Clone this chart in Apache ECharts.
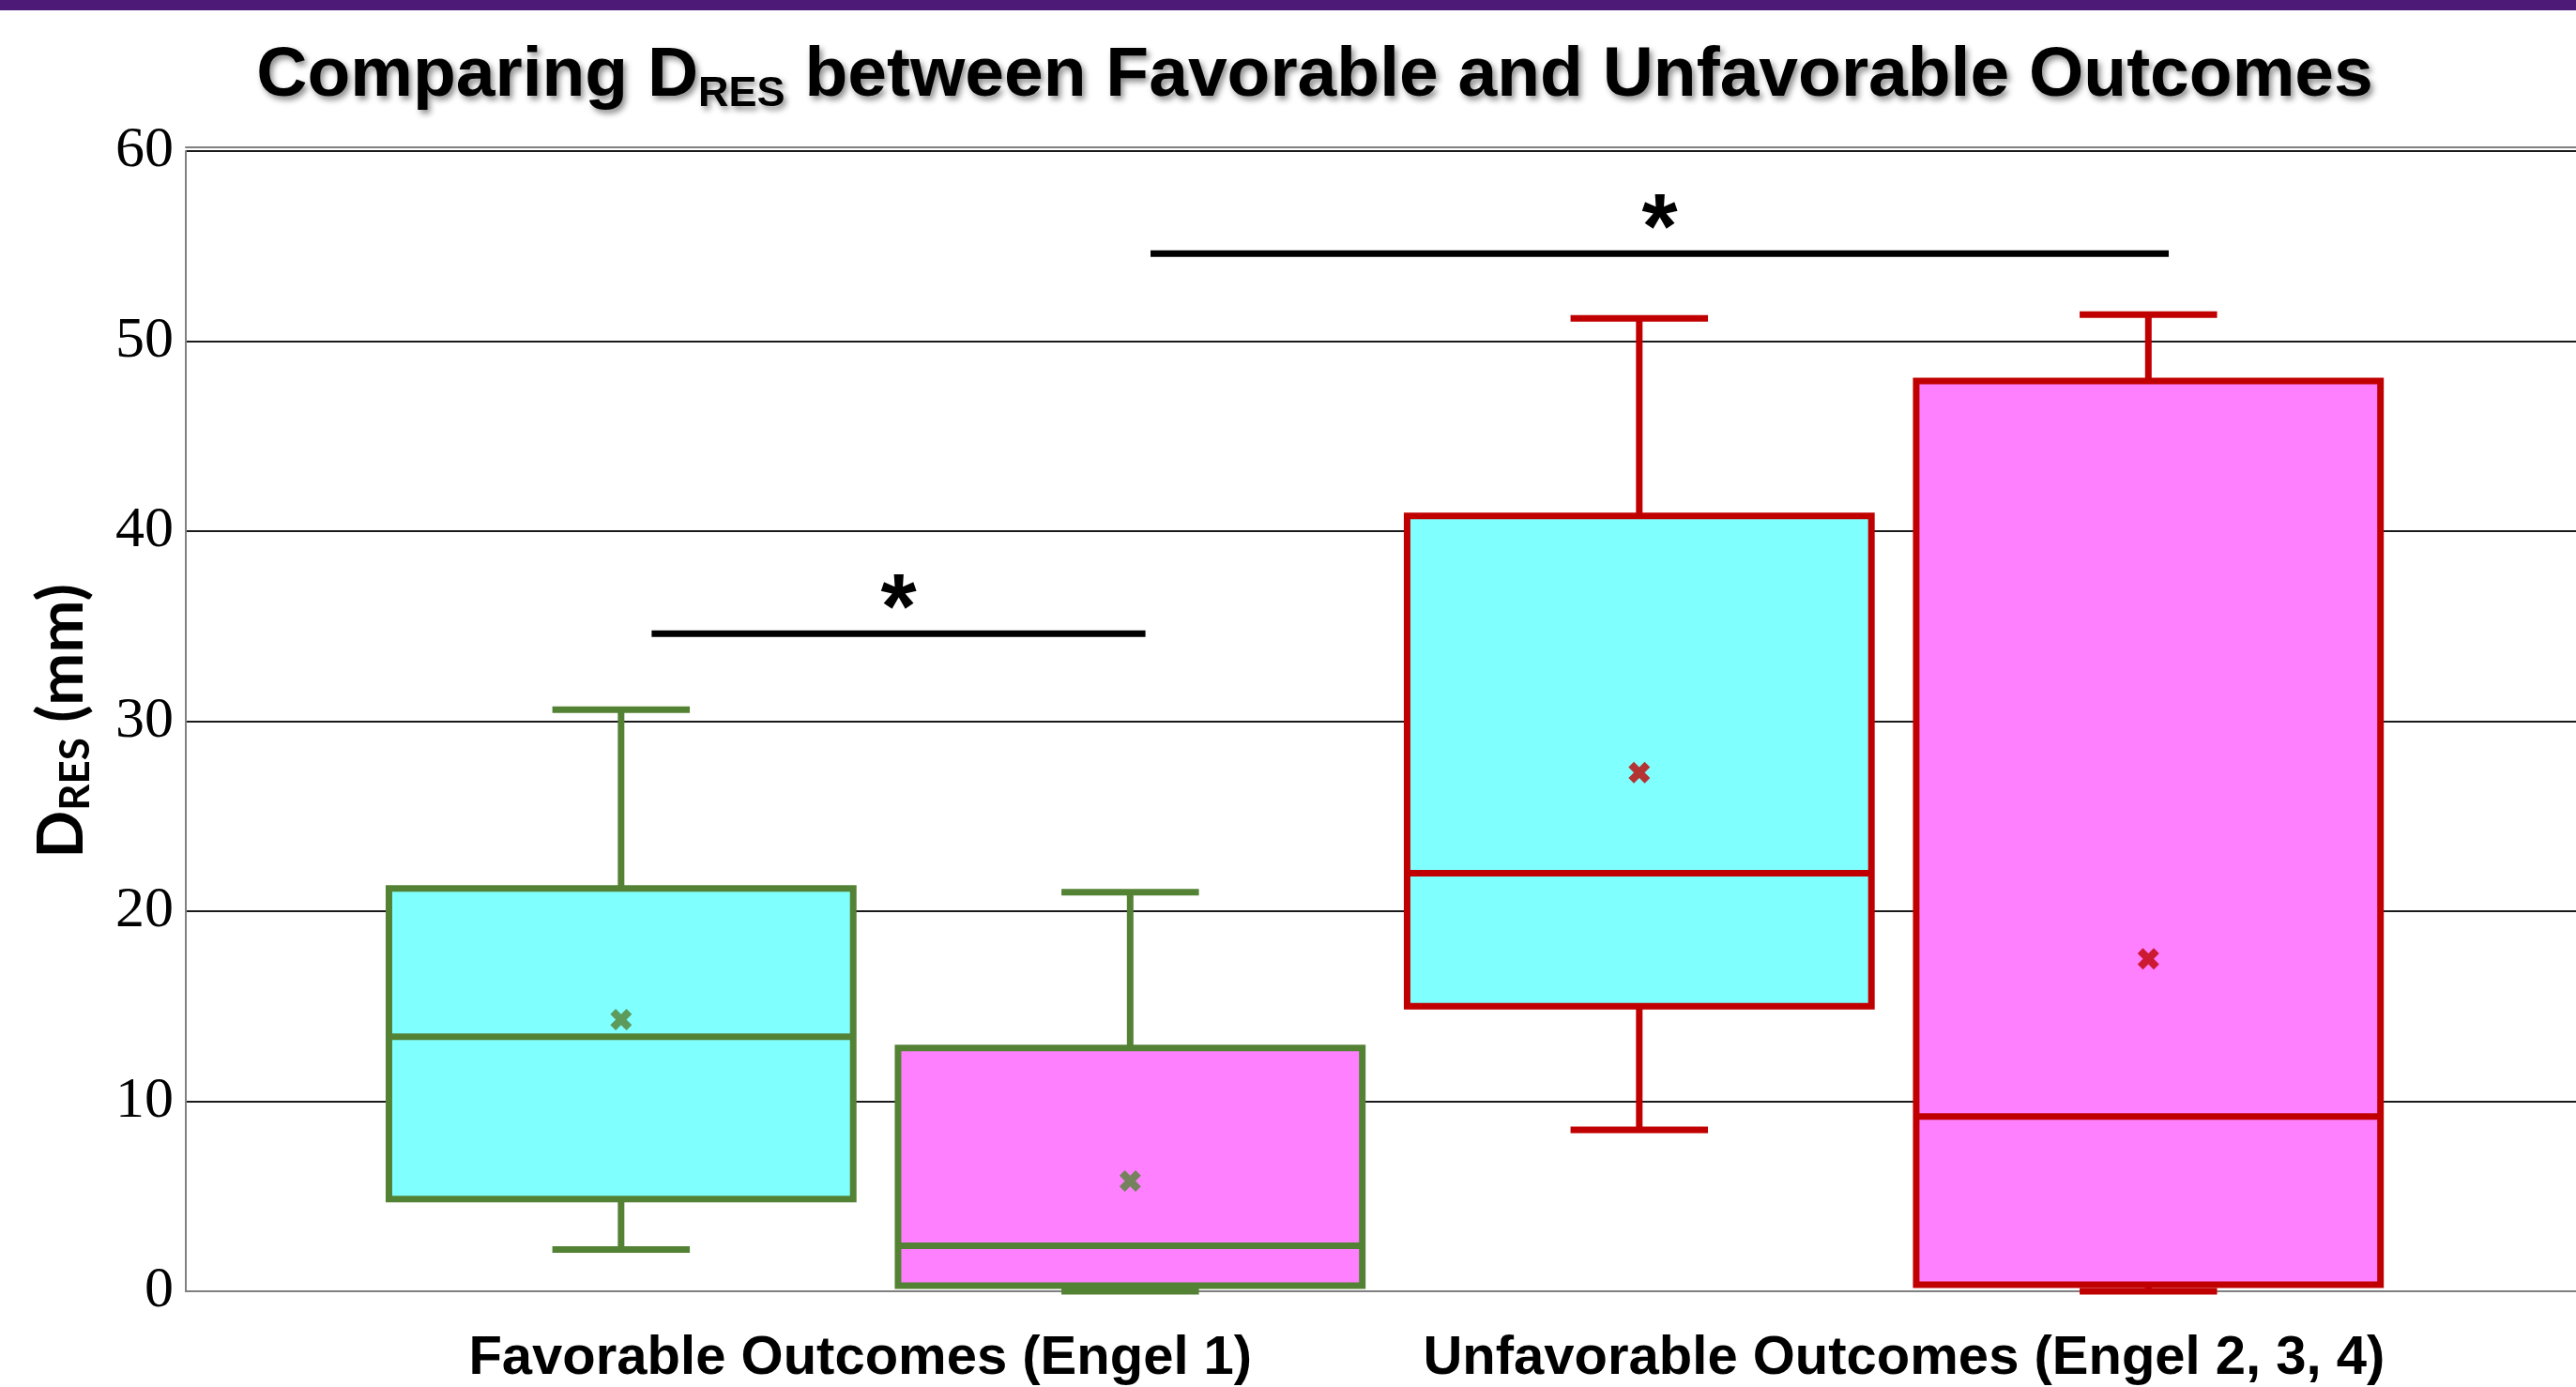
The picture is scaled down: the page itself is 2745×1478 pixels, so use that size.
<!DOCTYPE html>
<html>
<head>
<meta charset="utf-8">
<script src="https://cdn.jsdelivr.net/npm/echarts@6/dist/echarts.min.js"></script>
<style>
  html, body { margin: 0; padding: 0; background: #ffffff; }
  #chart { width: 2745px; height: 1478px; }
</style>
</head>
<body>
<div id="chart"></div>
<script>
// Group labels along the x axis and where they sit (in box-position units)
const groupLabels = ['Favorable Outcomes (Engel 1)', 'Unfavorable Outcomes (Engel 2, 3, 4)'];
const groupLabelPositions = [1.47, 3.52];

// Box-plot statistics for D_RES (mm), one entry per box
const boxPositions = [1, 2, 3, 4];
const whiskerLow  = [2.2, 0.0, 8.5, 0.0];
const quartile1   = [4.85, 0.3, 15.0, 0.35];
const medians     = [13.4, 2.4, 22.0, 9.2];
const quartile3   = [21.2, 12.8, 40.8, 47.9];
const whiskerHigh = [30.6, 21.0, 51.2, 51.4];
const means       = [14.3, 5.8, 27.3, 17.5];

// Significance brackets
const sigFrom  = [1.06, 2.04];
const sigTo    = [2.03, 4.04];
const sigLevel = [34.6, 54.6];
const sigMark  = ['*', '*'];

// Y axis range
const yMin = 0, yMax = 60, yStep = 10;

// Styling
const boxFill   = ['#80ffff', '#ff80ff', '#80ffff', '#ff80ff'];
const boxStroke = ['#548235', '#548235', '#c00000', '#c00000'];
const BOX_WIDTH = 0.912;   // in x-axis units
const CAP_WIDTH = 0.27;
const LINE_W = 7;
const SANS = 'Liberation Sans, Arial, sans-serif';
const NAME_FONT = 'Lato, Open Sans, sans-serif';

const chart = echarts.init(document.getElementById('chart'), null, { renderer: 'canvas' });

function renderBox(params, api) {
  const i = params.dataIndex;
  const x = api.value(0);
  const pLo = api.coord([x, api.value(1)]);
  const pQ1 = api.coord([x, api.value(2)]);
  const pMd = api.coord([x, api.value(3)]);
  const pQ3 = api.coord([x, api.value(4)]);
  const pHi = api.coord([x, api.value(5)]);
  const bw = api.size([BOX_WIDTH, 0])[0];
  const cw = api.size([CAP_WIDTH, 0])[0];
  const cx = pMd[0];
  const stroke = boxStroke[i];
  const ls = { stroke: stroke, lineWidth: LINE_W };
  return {
    type: 'group',
    children: [
      { type: 'line', shape: { x1: cx, y1: pQ3[1], x2: cx, y2: pHi[1] }, style: ls },
      { type: 'line', shape: { x1: cx - cw / 2, y1: pHi[1], x2: cx + cw / 2, y2: pHi[1] }, style: ls },
      { type: 'line', shape: { x1: cx, y1: pQ1[1], x2: cx, y2: pLo[1] }, style: ls },
      { type: 'line', shape: { x1: cx - cw / 2, y1: pLo[1], x2: cx + cw / 2, y2: pLo[1] }, style: ls },
      { type: 'rect', shape: { x: cx - bw / 2, y: pQ3[1], width: bw, height: pQ1[1] - pQ3[1] },
        style: { fill: boxFill[i], stroke: stroke, lineWidth: LINE_W } },
      { type: 'line', shape: { x1: cx - bw / 2, y1: pMd[1], x2: cx + bw / 2, y2: pMd[1] }, style: ls }
    ]
  };
}

function renderBracket(params, api) {
  const a = api.coord([api.value(0), api.value(2)]);
  const b = api.coord([api.value(1), api.value(2)]);
  return {
    type: 'group',
    children: [
      { type: 'line', shape: { x1: a[0], y1: a[1], x2: b[0], y2: b[1] },
        style: { stroke: '#000000', lineWidth: 7 } },
      { type: 'text', x: (a[0] + b[0]) / 2, y: a[1] + 27,
        style: { text: sigMark[params.dataIndex], fill: '#000000', font: 'bold 98px ' + SANS,
                 align: 'center', verticalAlign: 'bottom' } }
    ]
  };
}

const xMin = 0.145, xMax = 4.84;
const titleShadow = { textShadowColor: 'rgba(0,0,0,0.45)', textShadowBlur: 6, textShadowOffsetX: 3, textShadowOffsetY: 4 };

const option = {
  backgroundColor: '#ffffff',
  animation: false,
  title: {
    left: 1396,
    top: 34,
    textAlign: 'center',
    text: '{a|Comparing D}{s|RES}{a| between Favorable and Unfavorable Outcomes}',
    textStyle: {
      rich: {
        a: Object.assign({ fontFamily: SANS, fontWeight: 'bold', fontSize: 75, lineHeight: 84, color: '#000000' }, titleShadow),
        s: Object.assign({ fontFamily: SANS, fontWeight: 'bold', fontSize: 45, lineHeight: 20, color: '#000000',
             verticalAlign: 'bottom' }, titleShadow)
      }
    }
  },
  graphic: [
    { type: 'rect', left: 0, top: 0, shape: { width: 2745, height: 11 }, style: { fill: '#4e1a78' } }
  ],
  grid: { left: 198, right: 0, top: 161, bottom: 102, containLabel: false },
  xAxis: [
    {
      type: 'value', min: xMin, max: xMax,
      axisLine: { show: true, onZero: false, lineStyle: { color: '#808080', width: 2 } },
      axisTick: { show: false },
      splitLine: { show: false },
      axisLabel: {
        customValues: groupLabelPositions,
        formatter: function (v) {
          const k = groupLabelPositions.indexOf(v);
          return k >= 0 ? groupLabels[k] : '';
        },
        fontFamily: SANS, fontWeight: 'bold', fontSize: 58, color: '#000000', margin: 43
      }
    },
    {
      type: 'value', min: xMin, max: xMax, position: 'top', offset: 4,
      axisLine: { show: true, onZero: false, lineStyle: { color: '#808080', width: 2 } },
      axisTick: { show: false }, axisLabel: { show: false }, splitLine: { show: false }
    }
  ],
  yAxis: {
    type: 'value', min: yMin, max: yMax, interval: yStep,
    axisLine: { show: true, lineStyle: { color: '#808080', width: 2 } },
    axisTick: { show: false },
    axisLabel: { fontFamily: 'Liberation Serif, Times New Roman, serif', fontSize: 62, color: '#000000',
                 margin: 13, padding: [10, 0, 0, 0] },
    splitLine: { show: true, lineStyle: { color: '#1a1a1a', width: 2 } },
    name: '{a|D}{s|RES}{a| (mm)}',
    nameLocation: 'middle',
    nameRotate: 90,
    nameGap: 95,
    nameTextStyle: {
      rich: {
        a: { fontFamily: NAME_FONT, fontWeight: 'bold', fontSize: 67, lineHeight: 74, color: '#000000' },
        s: { fontFamily: NAME_FONT, fontWeight: 'bold', fontSize: 44, lineHeight: 24, color: '#000000', verticalAlign: 'bottom' }
      }
    }
  },
  series: [
    {
      type: 'custom',
      name: 'boxes',
      renderItem: renderBox,
      encode: { x: 0, y: [1, 2, 3, 4, 5] },
      data: boxPositions.map((x, i) => [x, whiskerLow[i], quartile1[i], medians[i], quartile3[i], whiskerHigh[i]]),
      z: 3
    },
    {
      type: 'scatter',
      name: 'mean',
      symbol: 'path://M0,2.5L2.5,0L5,2.5L7.5,0L10,2.5L7.5,5L10,7.5L7.5,10L5,7.5L2.5,10L0,7.5L2.5,5Z',
      symbolSize: 23,
      data: boxPositions.map((x, i) => ({ value: [x, means[i]], itemStyle: { color: boxStroke[i] } })),
      z: 5
    },
    {
      type: 'custom',
      name: 'significance',
      renderItem: renderBracket,
      encode: { x: [0, 1], y: 2 },
      data: sigFrom.map((f, i) => [f, sigTo[i], sigLevel[i]]),
      z: 6
    }
  ]
};

chart.setOption(option);
</script>
</body>
</html>
